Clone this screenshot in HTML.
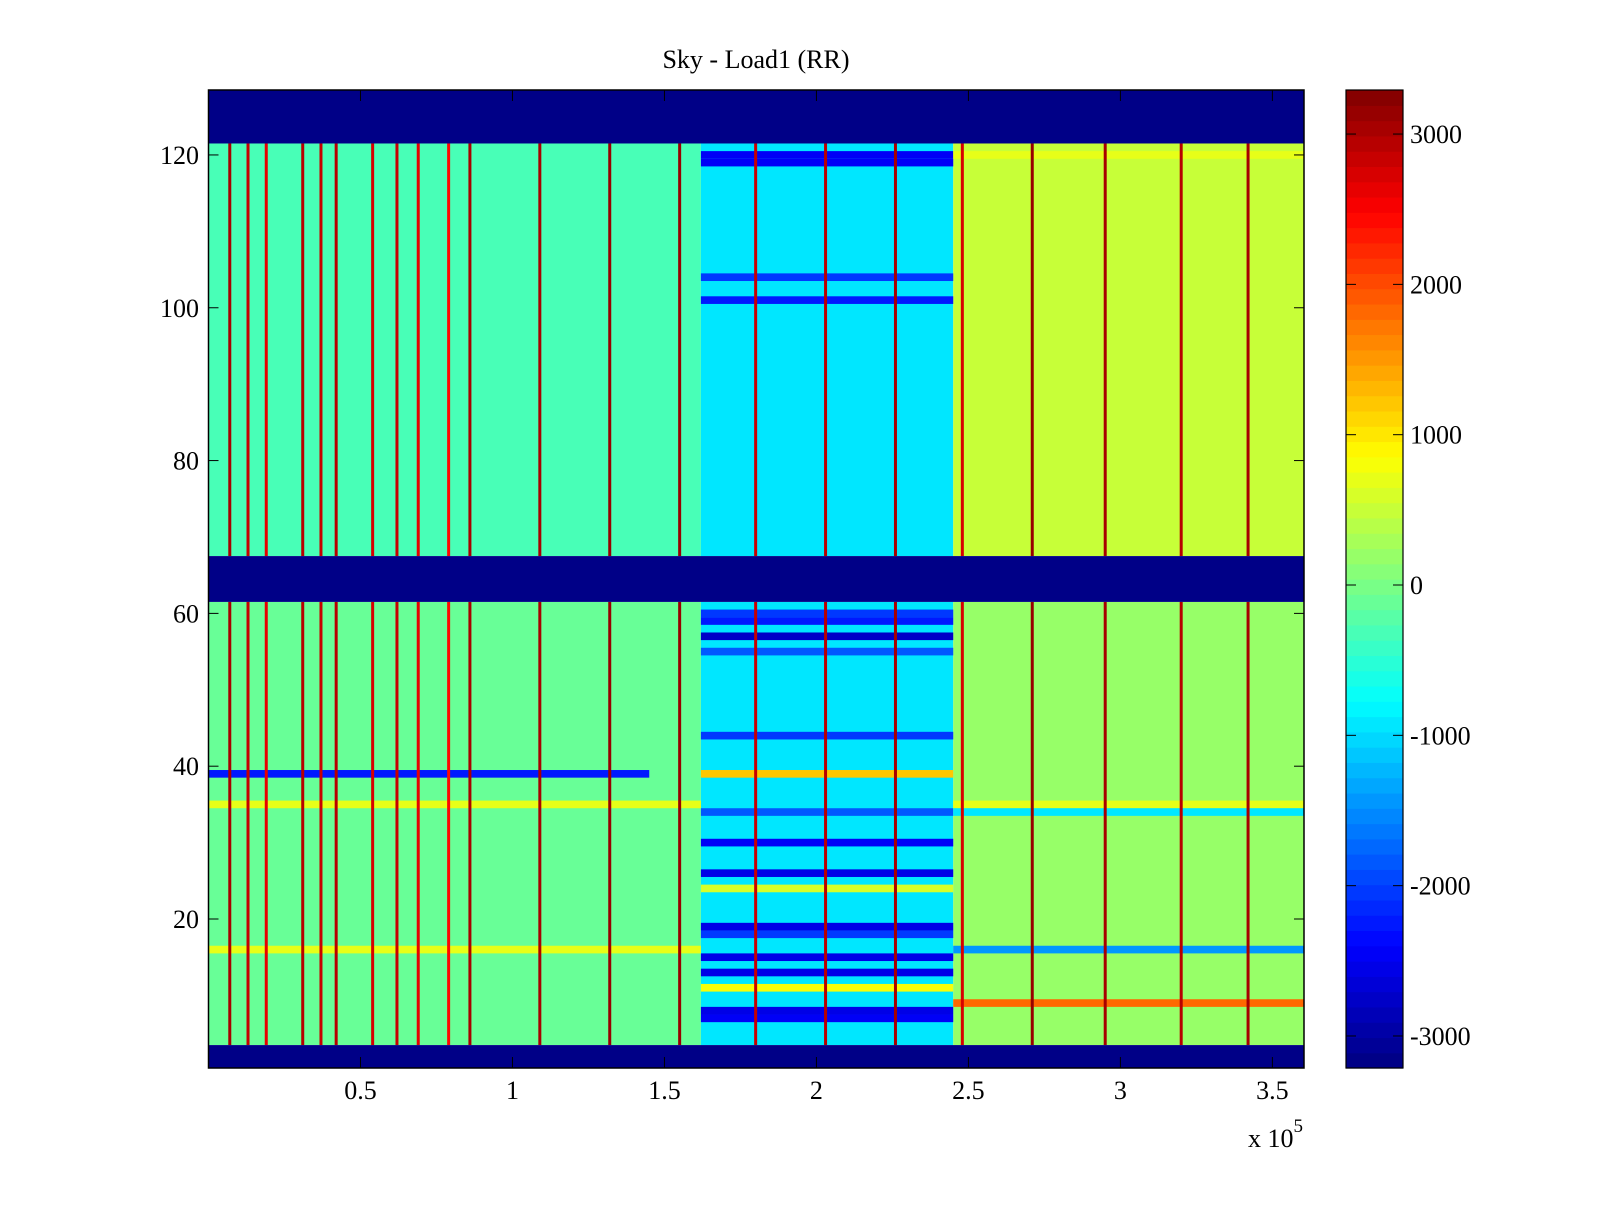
<!DOCTYPE html>
<html><head><meta charset="utf-8"><style>
body{margin:0;background:#fff;width:1600px;height:1200px;overflow:hidden}
text{font-family:"Liberation Serif",serif;font-size:26px;fill:#000}
</style></head><body>
<svg id="chart" width="1600" height="1200" xmlns="http://www.w3.org/2000/svg">
<rect width="1600" height="1200" fill="#fff"/>
<text x="756" y="68" text-anchor="middle">Sky - Load1 (RR)</text>
<g id="cells"></g>
<g id="axes"></g>
<g id="cbar"></g>
</svg>
<script>
// ---- data ----
const regionStart=[0,1.62,2.45];
const regionEnd=[1.62,2.45,3.604];
const lowerBase=[-100,-900,150];
const upperBase=[-350,-900,450];
const maskedRowStart=[1,62,122];
const maskedRowEnd=[3,67,128];
const maskValue=-3250;
const stripeRegion=[1,1,1,1,1,1,1,1,1,1,1,1,1,1,1,1,1,1,1,1,1,0,0,2,2,2,2,0,2];
const stripeRow=[60,59,57,55,44,39,34,30,26,24,19,18,15,13,11,8,7,120,119,104,101,39,35,9,16,35,34,16,120];
const stripeValue=[-2000,-2200,-2800,-1800,-2000,1200,-1800,-2400,-2600,600,-2600,-2000,-2600,-2600,800,-2600,-2400,-2400,-2400,-2000,-2200,-2200,700,1800,-1400,700,-900,700,700];
const spikeX=[0.07,0.13,0.19,0.31,0.37,0.42,0.54,0.62,0.69,0.79,0.86,1.09,1.32,1.55,1.80,2.03,2.26,2.48,2.71,2.95,3.20,3.42];
const spikeValue=[3000,2800,2600,2900,2800,2900,2700,2800,2600,2400,3000,3000,3100,3100,2800,2900,3000,2700,3100,3000,2900,3000];
const xTicks=[0.5,1,1.5,2,2.5,3,3.5];
const xTickLabels=["0.5","1","1.5","2","2.5","3","3.5"];
const yTicks=[20,40,60,80,100,120];
const cTicks=[3000,2000,1000,0,-1000,-2000,-3000];
const cTickLabels=["3000","2000","1000","0","-1000","-2000","-3000"];
// ---- scales ----
const L=208.5,R=1304,T=90,B=1068;
const xDom=[0,3.604], yDom=[0.5,128.5], cDom=[-3213,3293];
const xs=v=>L+(v-xDom[0])/(xDom[1]-xDom[0])*(R-L);
const ys=v=>B-(v-yDom[0])/(yDom[1]-yDom[0])*(B-T);
const cys=v=>B-(v-cDom[0])/(cDom[1]-cDom[0])*(B-T);
function jet(v){let t=(v-cDom[0])/(cDom[1]-cDom[0]);t=Math.max(0,Math.min(1,t));t=(Math.floor(t*63.999)+0.5)/64;
 const c=x=>Math.round(255*Math.max(0,Math.min(1,x)));
 return `rgb(${c(1.5-Math.abs(4*t-3))},${c(1.5-Math.abs(4*t-2))},${c(1.5-Math.abs(4*t-1))})`;}
const NS="http://www.w3.org/2000/svg";
function mk(tag,attrs,parent){const e=document.createElementNS(NS,tag);for(const k in attrs)e.setAttribute(k,attrs[k]);parent.appendChild(e);return e;}
const cells=document.getElementById('cells');
for(let g=0;g<regionStart.length;g++){
 const x0=xs(regionStart[g]),x1=xs(regionEnd[g]);
 [[4,61,lowerBase[g]],[68,121,upperBase[g]]].forEach(([r0,r1,val])=>{
  const e=mk('rect',{x:x0,y:ys(r1+0.5),width:x1-x0,height:ys(r0-0.5)-ys(r1+0.5),fill:jet(val)},cells);
  
  
 });
}
for(let i=0;i<stripeRow.length;i++){
 const g=stripeRegion[i];let x0=xs(regionStart[g]),x1=xs(regionEnd[g]);
 if(g===0&&stripeRow[i]===39){x1=xs(1.45);}
 const e=mk('rect',{x:x0,y:ys(stripeRow[i]+0.5),width:x1-x0,height:ys(stripeRow[i]-0.5)-ys(stripeRow[i]+0.5),fill:jet(stripeValue[i])},cells);
 
 
}
for(let i=0;i<spikeX.length;i++){
 [[4,61],[68,121]].forEach(([r0,r1])=>{
  const e=mk('rect',{x:xs(spikeX[i])-1.5,y:ys(r1+0.5),width:3,height:ys(r0-0.5)-ys(r1+0.5),fill:jet(spikeValue[i])},cells);
  
  
 });
}
for(let i=0;i<maskedRowStart.length;i++){
 const e=mk('rect',{x:L,y:ys(maskedRowEnd[i]+0.5),width:R-L,height:ys(maskedRowStart[i]-0.5)-ys(maskedRowEnd[i]+0.5),fill:jet(maskValue)},cells);
 
 
}
const ax=document.getElementById('axes');
const frame=mk('rect',{x:L,y:T,width:R-L,height:B-T,fill:'none',stroke:'#000','stroke-width':1.5},ax);


xTicks.forEach((v,i)=>{const x=xs(v);
 mk('line',{x1:x,x2:x,y1:B,y2:B-11,stroke:'#000'},ax);mk('line',{x1:x,x2:x,y1:T,y2:T+11,stroke:'#000'},ax);
 const t=mk('text',{x:x,y:1099,'text-anchor':'middle'},ax);t.textContent=xTickLabels[i];
 
 });
yTicks.forEach(v=>{const y=ys(v);
 mk('line',{x1:L,x2:L+10,y1:y,y2:y,stroke:'#000'},ax);mk('line',{x1:R,x2:R-10,y1:y,y2:y,stroke:'#000'},ax);
 const t=mk('text',{x:199,y:y+9,'text-anchor':'end'},ax);t.textContent=v;
 
 });
const ex=mk('text',{x:1248,y:1147},ax);ex.innerHTML='x 10<tspan dy="-15" font-size="19">5</tspan>';


const cb=document.getElementById('cbar');const CL=1346,CR=1403;
for(let k=0;k<64;k++){const v0=cDom[0]+(cDom[1]-cDom[0])*k/64,v1=cDom[0]+(cDom[1]-cDom[0])*(k+1)/64;
 const e=mk('rect',{x:CL,y:cys(v1),width:CR-CL,height:cys(v0)-cys(v1)+0.6,fill:jet((v0+v1)/2)},cb);
 
 }
mk('rect',{x:CL,y:T,width:CR-CL,height:B-T,fill:'none',stroke:'#000','stroke-width':1.2},cb);
cTicks.forEach((v,i)=>{const y=cys(v);
 mk('line',{x1:CL,x2:CL+10,y1:y,y2:y,stroke:'#000'},cb);mk('line',{x1:CR,x2:CR-10,y1:y,y2:y,stroke:'#000'},cb);
 const t=mk('text',{x:1410,y:y+9,'text-anchor':'start'},cb);t.textContent=cTickLabels[i];
 
 });
</script>
</body></html>
